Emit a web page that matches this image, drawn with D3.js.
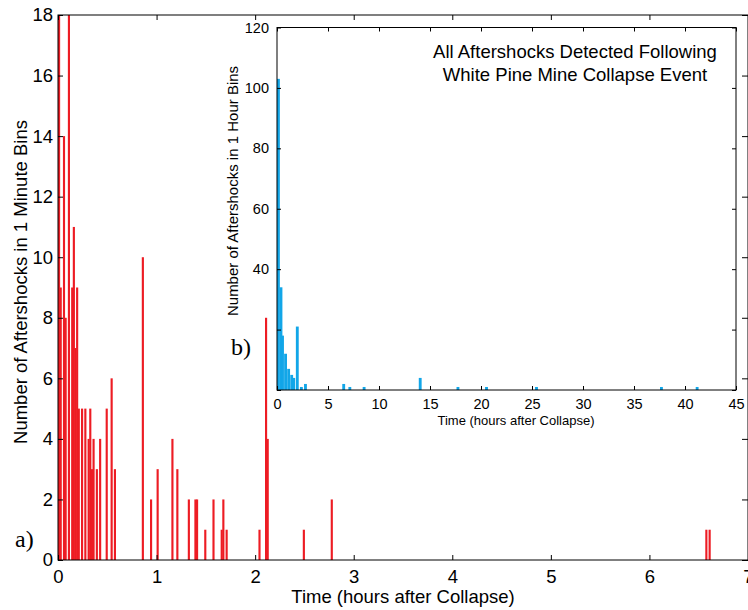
<!DOCTYPE html>
<html>
<head>
<meta charset="utf-8">
<script src="https://cdn.jsdelivr.net/npm/d3@7"></script>
<style>
  body { margin: 0; background: #fff; }
  svg { display: block; font-family: "Liberation Sans", Arial, sans-serif; }
  .frame { fill: none; stroke: #000; stroke-width: 1; }
</style>
</head>
<body>
<div id="container"></div>
<script>
// panel a) : aftershocks in 1 minute bins (bin start in minutes after collapse)
const minuteBins = [0, 1, 3, 4, 6, 8, 9, 10, 11, 12, 14, 16, 18, 19, 20, 21, 23, 25, 29, 32, 34,
  51, 56, 60, 69, 72, 79, 83, 84, 89, 94, 99, 100, 102, 122, 126, 127, 149, 166, 394, 396];
const minuteCounts = [18, 9, 14, 8, 18, 9, 11, 7, 9, 5, 5, 5, 4, 5, 3, 4, 3, 4, 5, 6, 3,
  10, 2, 3, 4, 3, 2, 2, 2, 1, 2, 1, 2, 1, 1, 8, 4, 1, 2, 1, 1];

// panel b) inset : aftershocks per bin over the whole period (bin start in hours)
const hourBins = [0, 0.25, 0.4, 0.7, 1.0, 1.3, 1.5, 1.85, 2.25, 2.65, 6.4, 7.0, 8.4, 13.9, 17.6, 20.4, 25.3, 37.55, 41.05];
const hourCounts = [103, 34, 18, 12, 7, 5, 4, 21, 1, 2, 2, 1, 1, 4, 1, 1, 1, 1, 1];

const mainXTicks = [0, 1, 2, 3, 4, 5, 6, 7];
const mainYTicks = [0, 2, 4, 6, 8, 10, 12, 14, 16, 18];
const insetXTicks = [0, 5, 10, 15, 20, 25, 30, 35, 40, 45];
const insetYTicks = [0, 20, 40, 60, 80, 100, 120];
const insetTitle = ["All Aftershocks Detected Following", "White Pine Mine Collapse Event"];

const W = 748, H = 610;
const red = "#ed1c24", blue = "#12a6e8";

const svg = d3.select("#container").append("svg")
  .attr("width", W).attr("height", H);

// ---- main panel ----
const m = { left: 58, right: 748, top: 15, bottom: 560 };
const x = d3.scaleLinear().domain([0, 7]).range([m.left, m.right]);
const y = d3.scaleLinear().domain([0, 18]).range([m.bottom, m.top]);

svg.append("clipPath").attr("id", "mainClip")
  .append("rect").attr("x", m.left).attr("y", m.top)
  .attr("width", m.right - m.left).attr("height", m.bottom - m.top);

const minuteData = minuteBins.map((b, i) => ({ t: b / 60, n: minuteCounts[i] }));
const barW = x(1 / 60) - x(0) + 0.5;

svg.append("g").attr("clip-path", "url(#mainClip)")
  .selectAll("rect").data(minuteData).enter().append("rect")
  .attr("x", (d) => x(d.t))
  .attr("y", (d) => y(d.n))
  .attr("width", barW)
  .attr("height", (d) => y(0) - y(d.n))
  .attr("fill", red);

const styleAxis = (g, size) => {
  g.select(".domain").remove();
  g.attr("font-size", size).attr("font-family", "Liberation Sans, Arial, sans-serif");
  g.selectAll("text").attr("fill", "#000");
};

svg.append("g").attr("transform", `translate(0,${m.bottom})`)
  .call(d3.axisBottom(x).tickValues(mainXTicks).tickFormat(d3.format("d"))
    .tickSizeInner(-5).tickSizeOuter(0).tickPadding(10))
  .call((g) => styleAxis(g, 18.5));
svg.append("g").attr("transform", `translate(0,${m.top})`)
  .call(d3.axisTop(x).tickValues(mainXTicks).tickSizeInner(-5).tickSizeOuter(0).tickFormat(""))
  .call((g) => styleAxis(g, 18.5));
svg.append("g").attr("transform", `translate(${m.left},0)`)
  .call(d3.axisLeft(y).tickValues(mainYTicks).tickSizeInner(-5).tickSizeOuter(0).tickPadding(5))
  .call((g) => styleAxis(g, 18.5));
svg.append("g").attr("transform", `translate(${m.right},0)`)
  .call(d3.axisRight(y).tickValues(mainYTicks).tickSizeInner(-6).tickSizeOuter(0).tickFormat(""))
  .call((g) => styleAxis(g, 18.5));

svg.append("rect").attr("class", "frame")
  .attr("x", m.left).attr("y", m.top)
  .attr("width", m.right - m.left).attr("height", m.bottom - m.top);

svg.append("text")
  .attr("x", (m.left + m.right) / 2).attr("y", 603)
  .attr("text-anchor", "middle").attr("font-size", 18.5)
  .text("Time (hours after Collapse)");

svg.append("text")
  .attr("transform", "translate(27,282) rotate(-90)")
  .attr("text-anchor", "middle").attr("font-size", 18.5)
  .text("Number of Aftershocks in 1 Minute Bins");

svg.append("text")
  .attr("x", 15).attr("y", 547)
  .attr("font-family", "Liberation Serif, Times New Roman, serif")
  .attr("font-size", 24)
  .text("a)");

// ---- inset panel ----
const n = { left: 277, right: 736, top: 27.5, bottom: 390 };
const ix = d3.scaleLinear().domain([0, 45]).range([n.left, n.right]);
const iy = d3.scaleLinear().domain([0, 120]).range([n.bottom, n.top]);

const inset = svg.append("g");
inset.append("rect")
  .attr("x", n.left).attr("y", n.top)
  .attr("width", n.right - n.left).attr("height", n.bottom - n.top)
  .attr("fill", "#fff");

const hourData = hourBins.map((b, i) => ({ t: b, n: hourCounts[i] }));
const hourW = ix(0.28) - ix(0);

inset.selectAll(".hbar").data(hourData).enter().append("rect")
  .attr("class", "hbar")
  .attr("x", (d) => ix(d.t))
  .attr("y", (d) => iy(d.n))
  .attr("width", hourW)
  .attr("height", (d) => iy(0) - iy(d.n))
  .attr("fill", blue);

inset.append("g").attr("transform", `translate(0,${n.bottom})`)
  .call(d3.axisBottom(ix).tickValues(insetXTicks).tickSizeInner(-4).tickSizeOuter(0).tickPadding(9))
  .call((g) => styleAxis(g, 14.5));
inset.append("g").attr("transform", `translate(0,${n.top})`)
  .call(d3.axisTop(ix).tickValues(insetXTicks).tickSizeInner(-4).tickSizeOuter(0).tickFormat(""))
  .call((g) => styleAxis(g, 14.5));
inset.append("g").attr("transform", `translate(${n.left},0)`)
  .call(d3.axisLeft(iy).tickValues(insetYTicks).tickSizeInner(-4).tickSizeOuter(0).tickPadding(8)
    .tickFormat((d) => (d >= 40 ? d : "")))
  .call((g) => styleAxis(g, 14.5));
inset.append("g").attr("transform", `translate(${n.right},0)`)
  .call(d3.axisRight(iy).tickValues(insetYTicks).tickSizeInner(-4).tickSizeOuter(0).tickFormat(""))
  .call((g) => styleAxis(g, 14.5));

inset.append("rect").attr("class", "frame")
  .attr("x", n.left).attr("y", n.top)
  .attr("width", n.right - n.left).attr("height", n.bottom - n.top);

inset.append("text")
  .attr("x", 516).attr("y", 425)
  .attr("text-anchor", "middle").attr("font-size", 13)
  .text("Time (hours after Collapse)");

inset.append("text")
  .attr("transform", "translate(238,191) rotate(-90)")
  .attr("text-anchor", "middle").attr("font-size", 15)
  .text("Number of Aftershocks in 1 Hour Bins");

inset.selectAll(".title").data(insetTitle).enter().append("text")
  .attr("class", "title")
  .attr("x", 575).attr("y", (d, i) => 58 + i * 23)
  .attr("text-anchor", "middle").attr("font-size", 18.5)
  .text((d) => d);

inset.append("text")
  .attr("x", 231).attr("y", 355)
  .attr("font-family", "Liberation Serif, Times New Roman, serif")
  .attr("font-size", 24)
  .text("b)");
</script>
</body>
</html>
